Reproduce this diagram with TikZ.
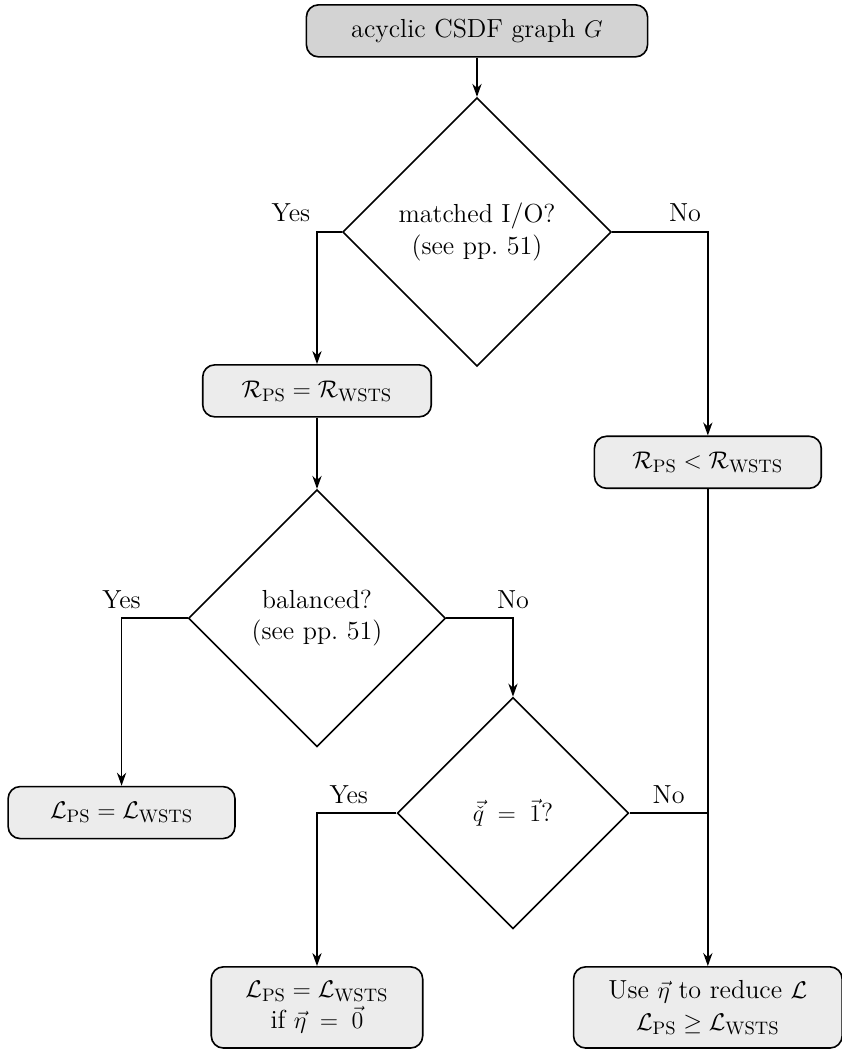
\documentclass[tikz,border=0pt,12pt]{standalone}
\usepackage{amsmath, amssymb}
\usepackage{tikz}
\usetikzlibrary{shapes.geometric,arrows.meta,positioning,calc}
\usepackage{xcolor}
\definecolor{flowStart}{HTML}{D3D3D3}
\definecolor{flowBox}{HTML}{ECECEC}

\begin{document}
\begin{tikzpicture}[
            >=Stealth,
            every node/.style={font=\fontsize{13}{15.5}\selectfont},
            box/.style={
                draw,
                line width=0.8pt,
                rounded corners=6pt,
                minimum height=0.91cm,
                align=center,
                fill=flowBox
            },
            startbox/.style={box, fill=flowStart, minimum width=5.97cm},
            resbox/.style={box, minimum width=3.97cm},
            decision/.style={draw, line width=0.8pt, diamond, aspect=1, inner sep=0pt, align=center},
            arrow/.style={-{Stealth[length=6.5pt, width=4.6pt]}, line width=0.8pt},
            plainline/.style={line width=0.8pt},
            lbl/.style={inner sep=3pt, yshift=1.5pt}
        ]
        \useasboundingbox (-8.3475,0) rectangle (6.3875,-18.375);

        %---------------- Top ----------------%
        \node[startbox] (graph) at (0,-0.54) {acyclic CSDF graph $G$};
        \node[decision, minimum size=4.7cm] (matched) at (0,-4.06) {matched I/O?\\(see pp.~51)};

        %---------------- Rate results ----------------%
        \node[resbox, minimum width=4cm] (rateeq) at (-2.8,-6.84) {$\mathcal{R}_{\mathrm{PS}} = \mathcal{R}_{\mathrm{WSTS}}$};
        \node[resbox] (rateless) at (4.04,-8.09) {$\mathcal{R}_{\mathrm{PS}} < \mathcal{R}_{\mathrm{WSTS}}$};

        %---------------- Latency checks ----------------%
        \node[decision, minimum size=4.5cm] (balanced) at (-2.8,-10.82) {balanced?\\(see pp.~51)};
        \node[resbox] (lateq) at (-6.22,-14.22) {$\mathcal{L}_{\mathrm{PS}} = \mathcal{L}_{\mathrm{WSTS}}$};
        \node[decision, minimum size=4.05cm] (unit) at (0.63,-14.23) {$\vec{\check{q}} \;=\; \vec{1}$?};

        %---------------- Bottom ----------------%
        \node[resbox, minimum width=3.7cm, minimum height=1.42cm] (latcond) at (-2.8,-17.63)
              {$\mathcal{L}_{\mathrm{PS}} = \mathcal{L}_{\mathrm{WSTS}}$\\if $\vec{\eta} \;=\; \vec{0}$};
        \node[resbox, minimum width=4.7cm, minimum height=1.42cm] (reduce) at (4.04,-17.63)
              {Use $\vec{\eta}$ to reduce $\mathcal{L}$\\$\mathcal{L}_{\mathrm{PS}} \geq \mathcal{L}_{\mathrm{WSTS}}$};

        %================ Rate branch =================%
        \draw[arrow] (graph) -- (matched);
        \draw[arrow] (matched.west) -| node[lbl, pos=0.5, above left] {Yes} (rateeq);
        \draw[arrow] (matched.east) -| node[lbl, pos=0.5, above left] {No} (rateless);

        %================ Latency branch =================%
        \draw[arrow] (rateeq) -- (balanced);
        \draw[arrow] (balanced.west) -| node[lbl, pos=0.5, above] {Yes} (lateq);
        \draw[arrow] (balanced.east) -| node[lbl, pos=0.5, above] {No} (unit);
        \draw[arrow] (unit.west) -| node[lbl, pos=0.3, above] {Yes} (latcond);

        % No joins the right column
        \coordinate (join) at (unit.east -| rateless);
        \draw[plainline] (unit.east) -- node[lbl, midway, above] {No} (join);
        \draw[arrow] (rateless) -- (reduce);

        \end{tikzpicture}
\end{document}
